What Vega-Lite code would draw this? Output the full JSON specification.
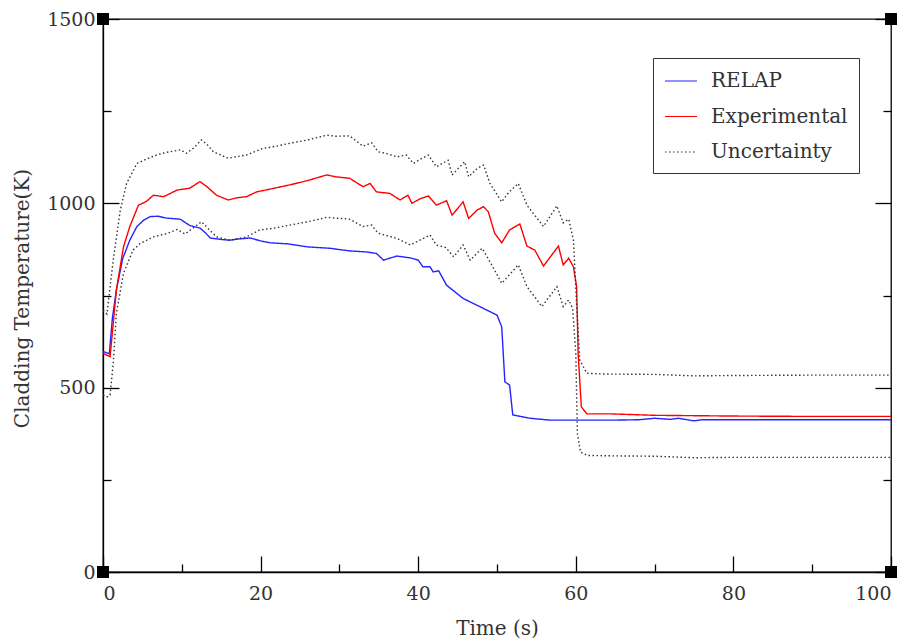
{
  "$schema": "https://vega.github.io/schema/vega-lite/v6.json",
  "width": 788,
  "height": 553,
  "autosize": {"type": "none"},
  "padding": {"left": 103, "top": 19, "right": 23, "bottom": 67},
  "background": "white",
  "config": {
    "font": "DejaVu Serif",
    "view": {"stroke": "#000", "strokeWidth": 1.3},
    "axis": {"grid": false, "domainColor": "#000", "domainWidth": 1.3, "tickColor": "#000", "tickWidth": 1.3, "labelFont": "DejaVu Serif", "labelFontSize": 19, "labelColor": "#333", "titleFont": "DejaVu Serif", "titleFontSize": 20, "titleFontWeight": "normal", "titleColor": "#333"}
  },
  "datasets": {
    "lines": [
      {"t": 0, "v": 598, "s": "RELAP", "b": "RELAP"},
      {"t": 0.8, "v": 592, "s": "RELAP", "b": "RELAP"},
      {"t": 1.2, "v": 690, "s": "RELAP", "b": "RELAP"},
      {"t": 1.7, "v": 765, "s": "RELAP", "b": "RELAP"},
      {"t": 2.5, "v": 850, "s": "RELAP", "b": "RELAP"},
      {"t": 3.4, "v": 900, "s": "RELAP", "b": "RELAP"},
      {"t": 4.3, "v": 937, "s": "RELAP", "b": "RELAP"},
      {"t": 5.2, "v": 955, "s": "RELAP", "b": "RELAP"},
      {"t": 6, "v": 964, "s": "RELAP", "b": "RELAP"},
      {"t": 7, "v": 965, "s": "RELAP", "b": "RELAP"},
      {"t": 8, "v": 960, "s": "RELAP", "b": "RELAP"},
      {"t": 9.8, "v": 957, "s": "RELAP", "b": "RELAP"},
      {"t": 11, "v": 940, "s": "RELAP", "b": "RELAP"},
      {"t": 12.3, "v": 933, "s": "RELAP", "b": "RELAP"},
      {"t": 13, "v": 920, "s": "RELAP", "b": "RELAP"},
      {"t": 13.6, "v": 906, "s": "RELAP", "b": "RELAP"},
      {"t": 15, "v": 902, "s": "RELAP", "b": "RELAP"},
      {"t": 16.1, "v": 900, "s": "RELAP", "b": "RELAP"},
      {"t": 17, "v": 903, "s": "RELAP", "b": "RELAP"},
      {"t": 18.7, "v": 906, "s": "RELAP", "b": "RELAP"},
      {"t": 20, "v": 898, "s": "RELAP", "b": "RELAP"},
      {"t": 21.2, "v": 893, "s": "RELAP", "b": "RELAP"},
      {"t": 23.5, "v": 890, "s": "RELAP", "b": "RELAP"},
      {"t": 25.9, "v": 882, "s": "RELAP", "b": "RELAP"},
      {"t": 28.8, "v": 878, "s": "RELAP", "b": "RELAP"},
      {"t": 31.3, "v": 871, "s": "RELAP", "b": "RELAP"},
      {"t": 33.5, "v": 868, "s": "RELAP", "b": "RELAP"},
      {"t": 34.7, "v": 864, "s": "RELAP", "b": "RELAP"},
      {"t": 35.6, "v": 846, "s": "RELAP", "b": "RELAP"},
      {"t": 36.5, "v": 852, "s": "RELAP", "b": "RELAP"},
      {"t": 37.3, "v": 857, "s": "RELAP", "b": "RELAP"},
      {"t": 39, "v": 852, "s": "RELAP", "b": "RELAP"},
      {"t": 40, "v": 846, "s": "RELAP", "b": "RELAP"},
      {"t": 40.6, "v": 828, "s": "RELAP", "b": "RELAP"},
      {"t": 41.5, "v": 828, "s": "RELAP", "b": "RELAP"},
      {"t": 41.9, "v": 814, "s": "RELAP", "b": "RELAP"},
      {"t": 42.6, "v": 817, "s": "RELAP", "b": "RELAP"},
      {"t": 43.6, "v": 778, "s": "RELAP", "b": "RELAP"},
      {"t": 45.7, "v": 742, "s": "RELAP", "b": "RELAP"},
      {"t": 47.8, "v": 720, "s": "RELAP", "b": "RELAP"},
      {"t": 49.5, "v": 702, "s": "RELAP", "b": "RELAP"},
      {"t": 50, "v": 697, "s": "RELAP", "b": "RELAP"},
      {"t": 50.6, "v": 665, "s": "RELAP", "b": "RELAP"},
      {"t": 51, "v": 516, "s": "RELAP", "b": "RELAP"},
      {"t": 51.6, "v": 507, "s": "RELAP", "b": "RELAP"},
      {"t": 52, "v": 426, "s": "RELAP", "b": "RELAP"},
      {"t": 54.2, "v": 417, "s": "RELAP", "b": "RELAP"},
      {"t": 56.7, "v": 412, "s": "RELAP", "b": "RELAP"},
      {"t": 60, "v": 412, "s": "RELAP", "b": "RELAP"},
      {"t": 65, "v": 412, "s": "RELAP", "b": "RELAP"},
      {"t": 68, "v": 413, "s": "RELAP", "b": "RELAP"},
      {"t": 70, "v": 417, "s": "RELAP", "b": "RELAP"},
      {"t": 72, "v": 414, "s": "RELAP", "b": "RELAP"},
      {"t": 73, "v": 417, "s": "RELAP", "b": "RELAP"},
      {"t": 75, "v": 410, "s": "RELAP", "b": "RELAP"},
      {"t": 76, "v": 413, "s": "RELAP", "b": "RELAP"},
      {"t": 80, "v": 413, "s": "RELAP", "b": "RELAP"},
      {"t": 90, "v": 413, "s": "RELAP", "b": "RELAP"},
      {"t": 100, "v": 413, "s": "RELAP", "b": "RELAP"},

      {"t": 0, "v": 593, "s": "Experimental", "b": "Experimental"},
      {"t": 0.9, "v": 584, "s": "Experimental", "b": "Experimental"},
      {"t": 1.7, "v": 765, "s": "Experimental", "b": "Experimental"},
      {"t": 2.6, "v": 882, "s": "Experimental", "b": "Experimental"},
      {"t": 3.4, "v": 937, "s": "Experimental", "b": "Experimental"},
      {"t": 4.5, "v": 995, "s": "Experimental", "b": "Experimental"},
      {"t": 5.5, "v": 1005, "s": "Experimental", "b": "Experimental"},
      {"t": 6.4, "v": 1022, "s": "Experimental", "b": "Experimental"},
      {"t": 7.7, "v": 1018, "s": "Experimental", "b": "Experimental"},
      {"t": 9.4, "v": 1036, "s": "Experimental", "b": "Experimental"},
      {"t": 11, "v": 1041, "s": "Experimental", "b": "Experimental"},
      {"t": 12.3, "v": 1059, "s": "Experimental", "b": "Experimental"},
      {"t": 13.2, "v": 1045, "s": "Experimental", "b": "Experimental"},
      {"t": 14.4, "v": 1022, "s": "Experimental", "b": "Experimental"},
      {"t": 15.9, "v": 1009, "s": "Experimental", "b": "Experimental"},
      {"t": 17, "v": 1015, "s": "Experimental", "b": "Experimental"},
      {"t": 18.2, "v": 1018, "s": "Experimental", "b": "Experimental"},
      {"t": 19.5, "v": 1031, "s": "Experimental", "b": "Experimental"},
      {"t": 21.5, "v": 1040, "s": "Experimental", "b": "Experimental"},
      {"t": 23.7, "v": 1050, "s": "Experimental", "b": "Experimental"},
      {"t": 26, "v": 1062, "s": "Experimental", "b": "Experimental"},
      {"t": 28.4, "v": 1077, "s": "Experimental", "b": "Experimental"},
      {"t": 29.5, "v": 1072, "s": "Experimental", "b": "Experimental"},
      {"t": 31.3, "v": 1068, "s": "Experimental", "b": "Experimental"},
      {"t": 33, "v": 1045, "s": "Experimental", "b": "Experimental"},
      {"t": 33.9, "v": 1054, "s": "Experimental", "b": "Experimental"},
      {"t": 34.7, "v": 1031, "s": "Experimental", "b": "Experimental"},
      {"t": 36.4, "v": 1027, "s": "Experimental", "b": "Experimental"},
      {"t": 37.7, "v": 1009, "s": "Experimental", "b": "Experimental"},
      {"t": 38.7, "v": 1022, "s": "Experimental", "b": "Experimental"},
      {"t": 39.2, "v": 1000, "s": "Experimental", "b": "Experimental"},
      {"t": 40.2, "v": 1012, "s": "Experimental", "b": "Experimental"},
      {"t": 41.3, "v": 1020, "s": "Experimental", "b": "Experimental"},
      {"t": 42.3, "v": 995, "s": "Experimental", "b": "Experimental"},
      {"t": 43.6, "v": 1007, "s": "Experimental", "b": "Experimental"},
      {"t": 44.3, "v": 968, "s": "Experimental", "b": "Experimental"},
      {"t": 45.7, "v": 1004, "s": "Experimental", "b": "Experimental"},
      {"t": 46.4, "v": 959, "s": "Experimental", "b": "Experimental"},
      {"t": 47.5, "v": 982, "s": "Experimental", "b": "Experimental"},
      {"t": 48.3, "v": 991, "s": "Experimental", "b": "Experimental"},
      {"t": 48.9, "v": 977, "s": "Experimental", "b": "Experimental"},
      {"t": 49.7, "v": 919, "s": "Experimental", "b": "Experimental"},
      {"t": 50.6, "v": 893, "s": "Experimental", "b": "Experimental"},
      {"t": 51.6, "v": 928, "s": "Experimental", "b": "Experimental"},
      {"t": 52.9, "v": 944, "s": "Experimental", "b": "Experimental"},
      {"t": 53.8, "v": 884, "s": "Experimental", "b": "Experimental"},
      {"t": 54.8, "v": 873, "s": "Experimental", "b": "Experimental"},
      {"t": 55.9, "v": 830, "s": "Experimental", "b": "Experimental"},
      {"t": 57.8, "v": 884, "s": "Experimental", "b": "Experimental"},
      {"t": 58.4, "v": 833, "s": "Experimental", "b": "Experimental"},
      {"t": 59.1, "v": 851, "s": "Experimental", "b": "Experimental"},
      {"t": 59.7, "v": 828, "s": "Experimental", "b": "Experimental"},
      {"t": 60.1, "v": 774, "s": "Experimental", "b": "Experimental"},
      {"t": 60.3, "v": 593, "s": "Experimental", "b": "Experimental"},
      {"t": 60.7, "v": 448, "s": "Experimental", "b": "Experimental"},
      {"t": 61.4, "v": 429, "s": "Experimental", "b": "Experimental"},
      {"t": 64.3, "v": 429, "s": "Experimental", "b": "Experimental"},
      {"t": 70, "v": 425, "s": "Experimental", "b": "Experimental"},
      {"t": 80, "v": 423, "s": "Experimental", "b": "Experimental"},
      {"t": 90, "v": 422, "s": "Experimental", "b": "Experimental"},
      {"t": 100, "v": 422, "s": "Experimental", "b": "Experimental"},

      {"t": 0, "v": 710, "s": "Uncertainty", "b": "upper"},
      {"t": 0.5, "v": 700, "s": "Uncertainty", "b": "upper"},
      {"t": 1.3, "v": 846, "s": "Uncertainty", "b": "upper"},
      {"t": 2.2, "v": 982, "s": "Uncertainty", "b": "upper"},
      {"t": 3, "v": 1054, "s": "Uncertainty", "b": "upper"},
      {"t": 4.3, "v": 1108, "s": "Uncertainty", "b": "upper"},
      {"t": 5.5, "v": 1120, "s": "Uncertainty", "b": "upper"},
      {"t": 6.8, "v": 1131, "s": "Uncertainty", "b": "upper"},
      {"t": 8, "v": 1138, "s": "Uncertainty", "b": "upper"},
      {"t": 9.8, "v": 1145, "s": "Uncertainty", "b": "upper"},
      {"t": 10.6, "v": 1136, "s": "Uncertainty", "b": "upper"},
      {"t": 11.5, "v": 1150, "s": "Uncertainty", "b": "upper"},
      {"t": 12.5, "v": 1172, "s": "Uncertainty", "b": "upper"},
      {"t": 13.2, "v": 1160, "s": "Uncertainty", "b": "upper"},
      {"t": 14, "v": 1140, "s": "Uncertainty", "b": "upper"},
      {"t": 15.9, "v": 1122, "s": "Uncertainty", "b": "upper"},
      {"t": 17, "v": 1127, "s": "Uncertainty", "b": "upper"},
      {"t": 18.2, "v": 1131, "s": "Uncertainty", "b": "upper"},
      {"t": 20.3, "v": 1149, "s": "Uncertainty", "b": "upper"},
      {"t": 22, "v": 1155, "s": "Uncertainty", "b": "upper"},
      {"t": 23.7, "v": 1163, "s": "Uncertainty", "b": "upper"},
      {"t": 26, "v": 1172, "s": "Uncertainty", "b": "upper"},
      {"t": 28.4, "v": 1185, "s": "Uncertainty", "b": "upper"},
      {"t": 29.5, "v": 1182, "s": "Uncertainty", "b": "upper"},
      {"t": 31.3, "v": 1183, "s": "Uncertainty", "b": "upper"},
      {"t": 33, "v": 1155, "s": "Uncertainty", "b": "upper"},
      {"t": 34.1, "v": 1164, "s": "Uncertainty", "b": "upper"},
      {"t": 34.9, "v": 1140, "s": "Uncertainty", "b": "upper"},
      {"t": 36, "v": 1135, "s": "Uncertainty", "b": "upper"},
      {"t": 37.3, "v": 1126, "s": "Uncertainty", "b": "upper"},
      {"t": 38.5, "v": 1131, "s": "Uncertainty", "b": "upper"},
      {"t": 39.4, "v": 1108, "s": "Uncertainty", "b": "upper"},
      {"t": 40.3, "v": 1120, "s": "Uncertainty", "b": "upper"},
      {"t": 41.3, "v": 1131, "s": "Uncertainty", "b": "upper"},
      {"t": 42.3, "v": 1099, "s": "Uncertainty", "b": "upper"},
      {"t": 43.8, "v": 1117, "s": "Uncertainty", "b": "upper"},
      {"t": 44.3, "v": 1077, "s": "Uncertainty", "b": "upper"},
      {"t": 45.9, "v": 1113, "s": "Uncertainty", "b": "upper"},
      {"t": 46.4, "v": 1072, "s": "Uncertainty", "b": "upper"},
      {"t": 47.5, "v": 1095, "s": "Uncertainty", "b": "upper"},
      {"t": 48.3, "v": 1104, "s": "Uncertainty", "b": "upper"},
      {"t": 49.1, "v": 1054, "s": "Uncertainty", "b": "upper"},
      {"t": 50.6, "v": 1004, "s": "Uncertainty", "b": "upper"},
      {"t": 51.5, "v": 1030, "s": "Uncertainty", "b": "upper"},
      {"t": 52.7, "v": 1054, "s": "Uncertainty", "b": "upper"},
      {"t": 53.8, "v": 995, "s": "Uncertainty", "b": "upper"},
      {"t": 55.9, "v": 937, "s": "Uncertainty", "b": "upper"},
      {"t": 57.6, "v": 993, "s": "Uncertainty", "b": "upper"},
      {"t": 58.4, "v": 947, "s": "Uncertainty", "b": "upper"},
      {"t": 59.1, "v": 957, "s": "Uncertainty", "b": "upper"},
      {"t": 59.7, "v": 900, "s": "Uncertainty", "b": "upper"},
      {"t": 60.1, "v": 729, "s": "Uncertainty", "b": "upper"},
      {"t": 60.5, "v": 575, "s": "Uncertainty", "b": "upper"},
      {"t": 61.4, "v": 539, "s": "Uncertainty", "b": "upper"},
      {"t": 63.5, "v": 537, "s": "Uncertainty", "b": "upper"},
      {"t": 70, "v": 536, "s": "Uncertainty", "b": "upper"},
      {"t": 75, "v": 532, "s": "Uncertainty", "b": "upper"},
      {"t": 80, "v": 533, "s": "Uncertainty", "b": "upper"},
      {"t": 90, "v": 534, "s": "Uncertainty", "b": "upper"},
      {"t": 100, "v": 534, "s": "Uncertainty", "b": "upper"},

      {"t": 0, "v": 480, "s": "Uncertainty", "b": "lower"},
      {"t": 0.5, "v": 475, "s": "Uncertainty", "b": "lower"},
      {"t": 0.9, "v": 480, "s": "Uncertainty", "b": "lower"},
      {"t": 1.3, "v": 566, "s": "Uncertainty", "b": "lower"},
      {"t": 1.7, "v": 702, "s": "Uncertainty", "b": "lower"},
      {"t": 2.6, "v": 810, "s": "Uncertainty", "b": "lower"},
      {"t": 3.8, "v": 873, "s": "Uncertainty", "b": "lower"},
      {"t": 4.7, "v": 891, "s": "Uncertainty", "b": "lower"},
      {"t": 6.4, "v": 909, "s": "Uncertainty", "b": "lower"},
      {"t": 8.1, "v": 918, "s": "Uncertainty", "b": "lower"},
      {"t": 9.4, "v": 929, "s": "Uncertainty", "b": "lower"},
      {"t": 10.4, "v": 917, "s": "Uncertainty", "b": "lower"},
      {"t": 12.5, "v": 950, "s": "Uncertainty", "b": "lower"},
      {"t": 14.4, "v": 909, "s": "Uncertainty", "b": "lower"},
      {"t": 16.1, "v": 900, "s": "Uncertainty", "b": "lower"},
      {"t": 18.2, "v": 909, "s": "Uncertainty", "b": "lower"},
      {"t": 19.9, "v": 928, "s": "Uncertainty", "b": "lower"},
      {"t": 21.5, "v": 932, "s": "Uncertainty", "b": "lower"},
      {"t": 23.7, "v": 941, "s": "Uncertainty", "b": "lower"},
      {"t": 26, "v": 950, "s": "Uncertainty", "b": "lower"},
      {"t": 28.4, "v": 962, "s": "Uncertainty", "b": "lower"},
      {"t": 29.5, "v": 960, "s": "Uncertainty", "b": "lower"},
      {"t": 31.3, "v": 957, "s": "Uncertainty", "b": "lower"},
      {"t": 33, "v": 937, "s": "Uncertainty", "b": "lower"},
      {"t": 34.1, "v": 941, "s": "Uncertainty", "b": "lower"},
      {"t": 34.9, "v": 919, "s": "Uncertainty", "b": "lower"},
      {"t": 37.3, "v": 905, "s": "Uncertainty", "b": "lower"},
      {"t": 39, "v": 887, "s": "Uncertainty", "b": "lower"},
      {"t": 41.5, "v": 914, "s": "Uncertainty", "b": "lower"},
      {"t": 42.3, "v": 887, "s": "Uncertainty", "b": "lower"},
      {"t": 43.5, "v": 880, "s": "Uncertainty", "b": "lower"},
      {"t": 44.5, "v": 855, "s": "Uncertainty", "b": "lower"},
      {"t": 45.7, "v": 887, "s": "Uncertainty", "b": "lower"},
      {"t": 46.6, "v": 846, "s": "Uncertainty", "b": "lower"},
      {"t": 48.1, "v": 878, "s": "Uncertainty", "b": "lower"},
      {"t": 49.1, "v": 842, "s": "Uncertainty", "b": "lower"},
      {"t": 50.6, "v": 783, "s": "Uncertainty", "b": "lower"},
      {"t": 52.7, "v": 833, "s": "Uncertainty", "b": "lower"},
      {"t": 53.8, "v": 774, "s": "Uncertainty", "b": "lower"},
      {"t": 55.7, "v": 720, "s": "Uncertainty", "b": "lower"},
      {"t": 57.6, "v": 774, "s": "Uncertainty", "b": "lower"},
      {"t": 58.4, "v": 720, "s": "Uncertainty", "b": "lower"},
      {"t": 59.1, "v": 738, "s": "Uncertainty", "b": "lower"},
      {"t": 59.6, "v": 715, "s": "Uncertainty", "b": "lower"},
      {"t": 60, "v": 593, "s": "Uncertainty", "b": "lower"},
      {"t": 60.2, "v": 376, "s": "Uncertainty", "b": "lower"},
      {"t": 60.6, "v": 325, "s": "Uncertainty", "b": "lower"},
      {"t": 61.5, "v": 316, "s": "Uncertainty", "b": "lower"},
      {"t": 65, "v": 315, "s": "Uncertainty", "b": "lower"},
      {"t": 70, "v": 314, "s": "Uncertainty", "b": "lower"},
      {"t": 75, "v": 310, "s": "Uncertainty", "b": "lower"},
      {"t": 80, "v": 311, "s": "Uncertainty", "b": "lower"},
      {"t": 90, "v": 311, "s": "Uncertainty", "b": "lower"},
      {"t": 100, "v": 311, "s": "Uncertainty", "b": "lower"}
    ],
    "corners": [
      {"t": 0, "v": 0},
      {"t": 0, "v": 1500},
      {"t": 100, "v": 0},
      {"t": 100, "v": 1500}
    ]
  },
  "layer": [
    {
      "data": {"name": "lines"},
      "mark": {"type": "line", "strokeWidth": 1.4},
      "encoding": {
        "x": {
          "field": "t", "type": "quantitative",
          "scale": {"domain": [0, 100], "nice": false},
          "axis": {
            "orient": "bottom",
            "title": "Time (s)",
            "values": [0, 10, 20, 30, 40, 50, 60, 70, 80, 90, 100],
            "labelExpr": "datum.value % 20 === 0 ? datum.label : ''",
            "tickSize": {"condition": {"test": "datum.value % 20 === 0", "value": -16}, "value": -8},
            "labelPadding": 28,
            "titleY": 46
          }
        },
        "y": {
          "field": "v", "type": "quantitative",
          "scale": {"domain": [0, 1500], "nice": false},
          "axis": {
            "orient": "left",
            "title": "Cladding Temperature(K)",
            "values": [0, 250, 500, 750, 1000, 1250, 1500],
            "labelExpr": "datum.value % 500 === 0 ? datum.label : ''",
            "format": "d",
            "tickSize": {"condition": {"test": "datum.value % 500 === 0", "value": -16}, "value": -8},
            "labelPadding": 24,
            "titleX": -71,
            "titleY": 279
          }
        },
        "color": {
          "field": "s", "type": "nominal",
          "scale": {"domain": ["RELAP", "Experimental", "Uncertainty"], "range": ["#2424ff", "#ff0000", "#333333"]},
          "legend": {
            "title": null,
            "orient": "none",
            "legendX": 550,
            "legendY": 39,
            "strokeColor": "#333",
            "fillColor": "white",
            "padding": 11,
            "rowPadding": 13.5,
            "symbolType": "M-1,0L1.909,0",
            "symbolSize": 484,
            "symbolStrokeWidth": 1.2,
            "labelFont": "DejaVu Serif",
            "labelFontSize": 20,
            "labelColor": "#333",
            "labelOffset": 23
          }
        },
        "strokeDash": {
          "field": "s", "type": "nominal",
          "scale": {"domain": ["RELAP", "Experimental", "Uncertainty"], "range": [[1, 0], [1, 0], [1.5, 2.5]]},
          "legend": null
        },
        "detail": {"field": "b", "type": "nominal"}
      }
    },
    {
      "data": {"name": "corners"},
      "mark": {"type": "square", "size": 144, "color": "#000", "filled": true, "opacity": 1},
      "encoding": {
        "x": {
          "field": "t", "type": "quantitative",
          "axis": {"orient": "top", "title": null, "labels": false, "ticks": false, "domain": false}
        },
        "y": {
          "field": "v", "type": "quantitative",
          "axis": {
            "orient": "right", "title": null, "labels": false, "domain": false,
            "values": [0, 250, 500, 750, 1000, 1250, 1500],
            "tickSize": {"condition": {"test": "datum.value % 500 === 0", "value": -16}, "value": -8}
          }
        }
      }
    }
  ],
  "resolve": {"axis": {"x": "independent", "y": "independent"}}
}
